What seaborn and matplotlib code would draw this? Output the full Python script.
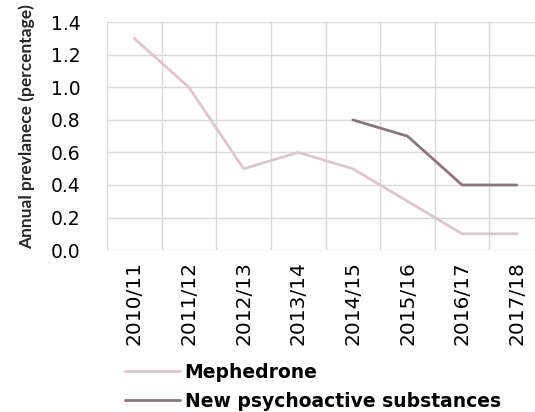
import numpy as np
import pandas as pd
import matplotlib.pyplot as plt
import seaborn as sns
from matplotlib.lines import Line2D

# Data
years = ["2010/11", "2011/12", "2012/13", "2013/14",
         "2014/15", "2015/16", "2016/17", "2017/18"]
mephedrone = [1.3, 1.0, 0.5, 0.6, 0.5, 0.3, 0.1, 0.1]
nps = [np.nan, np.nan, np.nan, np.nan, 0.8, 0.7, 0.4, 0.4]
series_names = ["Mephedrone", "New psychoactive substances"]
y_ticks = [0.0, 0.2, 0.4, 0.6, 0.8, 1.0, 1.2, 1.4]

colors = {"Mephedrone": "#DCC6CF", "New psychoactive substances": "#8A767F"}

df = pd.DataFrame({
    "Year": years * 2,
    "Prevalence": mephedrone + nps,
    "Series": [series_names[0]] * len(years) + [series_names[1]] * len(years),
})

sns.set_style("white")
plt.rcParams["font.family"] = ["DejaVu Sans"]
plt.rcParams["text.color"] = "black"
plt.rcParams["xtick.color"] = "black"
plt.rcParams["ytick.color"] = "black"

fig = plt.figure(figsize=(5.35, 4.12), dpi=100)
# plot area runs a bit past the right edge, like the reference
ax = fig.add_axes([0.200, 0.393, 0.817, 0.553])

sns.lineplot(data=df, x="Year", y="Prevalence", hue="Series",
             palette=colors, linewidth=2, legend=False, ax=ax, sort=False)

ax.set_xlim(-0.5, len(years) - 0.5)
ax.set_ylim(0, 1.4)
ax.set_yticks(y_ticks)
ax.set_yticklabels([f"{v:.1f}" for v in y_ticks], fontsize=13.5)
ax.set_xticks(range(len(years)))
ax.set_xticklabels(years, rotation=90, fontsize=14.5)
ax.set_xticks(np.arange(-0.5, len(years), 1.0), minor=True)

ax.grid(False)
ax.yaxis.grid(True, color="#D9D9D9", linewidth=1)
ax.xaxis.grid(True, which="minor", color="#D9D9D9", linewidth=1)
ax.tick_params(axis="both", which="both", length=0)
ax.tick_params(axis="y", pad=19)
ax.tick_params(axis="x", pad=8)
for s in ax.spines.values():
    s.set_visible(False)
ax.set_axisbelow(True)

ax.set_xlabel("")
ax.set_ylabel("Annual prevlanece (percentage)", fontsize=12.5,
              fontweight="bold", family=["Lato", "DejaVu Sans"])
ax.yaxis.set_label_coords(-0.165, 0.54)

handles = [Line2D([0], [0], color=colors[n], linewidth=2) for n in series_names]
leg = fig.legend(handles, series_names, loc="upper left",
                 bbox_to_anchor=(0.234, 0.12), frameon=False,
                 prop={"weight": "bold", "size": 13.5},
                 handlelength=2.9, handletextpad=0.27, labelspacing=0.55,
                 borderaxespad=0, borderpad=0)

fig.savefig("out.png", dpi=100)
